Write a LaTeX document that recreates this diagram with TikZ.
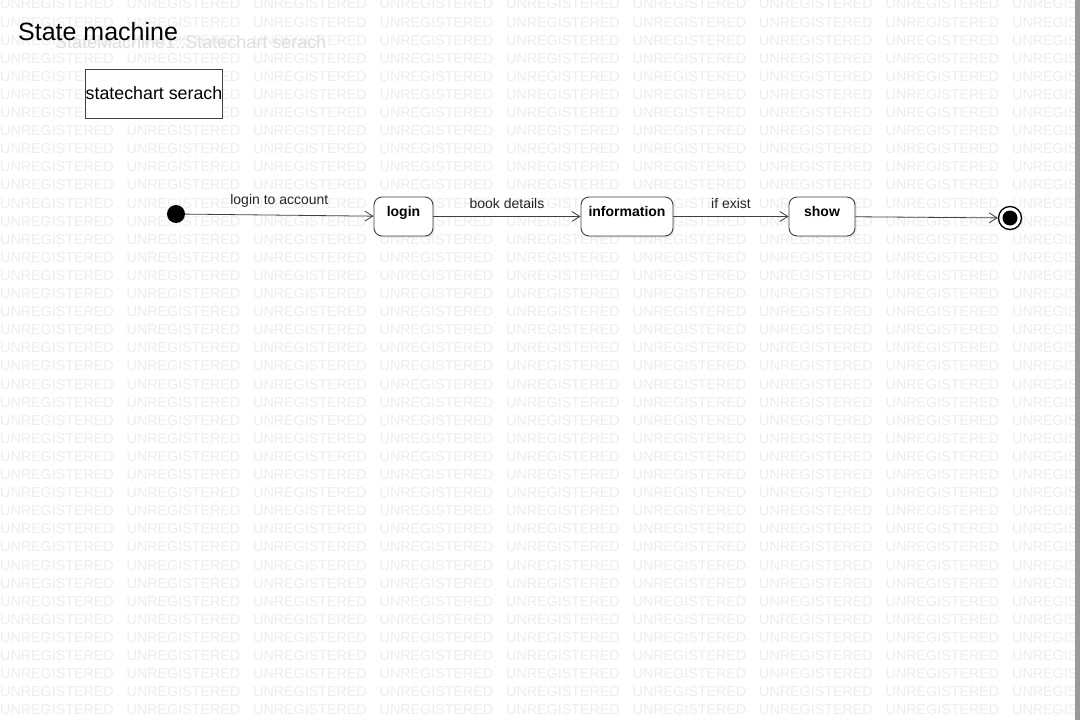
\documentclass[tikz,border=0pt]{standalone}
\usepackage{fontspec}
\setmainfont{Liberation Sans}
\usetikzlibrary{arrows.meta,shadows}
\definecolor{wm}{gray}{0.93}
\definecolor{ghost}{gray}{0.87}
\definecolor{edge}{gray}{0.25}
\definecolor{frame}{gray}{0.6}
\tikzset{
  watermark/.style={anchor=west, text=wm, inner sep=0, font=\fontsize{14.3}{14}\selectfont},
  statebox/.style={draw=edge, line width=0.9pt, rounded corners=8pt, fill=white,
    minimum height=39pt, inner sep=0, text height=10pt, text depth=11pt,
    font=\fontsize{14}{16}\selectfont\bfseries,
    drop shadow={opacity=0.18, shadow xshift=1.5pt, shadow yshift=-1.5pt}},
  transition/.style={draw=edge, line width=0.8pt, -{Straight Barb[length=8pt,width=10pt]}},
  trlabel/.style={above=7.5pt, inner sep=0, font=\fontsize{14}{16}\selectfont, text=black!85},
}
\begin{document}
\begin{tikzpicture}[x=1pt,y=-1pt]
  \useasboundingbox[fill=white] (0,0) rectangle (1080,720);

  % background watermark grid
  \begin{scope}
    \clip (0,0) rectangle (1075,720);
    \foreach \r in {0,...,39}
      \foreach \c in {0,...,8}
        \node[watermark] (wm-\r-\c) at ({126.5*\c},{4+18.1*\r}) {UNREGISTERED};
  \end{scope}
  \fill[frame] (1075,0) rectangle (1080,720);

  % diagram header
  \node[anchor=base west, inner sep=0, text=ghost, font=\fontsize{18}{20}\selectfont] (ghosttitle) at (55,48) {StateMachine1::Statechart serach};
  \node[anchor=base west, inner sep=0, font=\fontsize{25}{28}\selectfont] (title) at (18,41) {State machine};
  \node[draw=edge, line width=0.8pt, minimum width=136pt, minimum height=49pt, inner sep=0,
        fill=white, font=\fontsize{17.8}{20}\selectfont] (frame) at (154,93.5) {statechart serach};

  % states
  \fill[black] (176,214) circle (9);
  \node[circle, minimum size=18pt, inner sep=0] (init) at (176,214) {};
  \node[statebox, minimum width=59pt] (login) at (403.5,216.5) {login};
  \node[statebox, minimum width=92pt] (info) at (627,216.5) {information};
  \node[statebox, minimum width=66pt] (show) at (822,216.5) {show};
  \node[circle, draw=black, line width=1.3pt, fill=white, minimum size=23pt, inner sep=0,
        drop shadow={opacity=0.18, shadow xshift=1.5pt, shadow yshift=-1.5pt}] (final) at (1010,218) {};
  \fill[black] (final.center) circle (7.5);

  % transitions
  \draw[transition] (init) -- node[trlabel, midway] {login to account} (login);
  \draw[transition] (login) -- node[trlabel, midway] {book details} (info);
  \draw[transition] (info) -- node[trlabel, midway] {if exist} (show);
  \draw[transition] (show) -- (final);
\end{tikzpicture}
\end{document}
